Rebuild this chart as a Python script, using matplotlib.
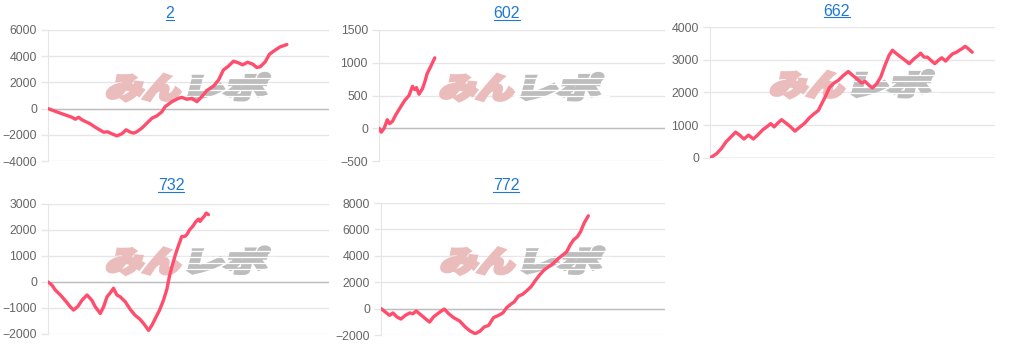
import matplotlib
matplotlib.use("Agg")
import matplotlib.pyplot as plt
from matplotlib.textpath import TextPath
from matplotlib.font_manager import FontProperties
from matplotlib.patches import PathPatch
from matplotlib.transforms import Affine2D, IdentityTransform
from matplotlib.lines import Line2D

W, H, DPI = 1017, 346, 100

# ---- data (game index on a shared 0-100 axis, balance) ----
titles = ["2", "602", "662", "732", "772"]
x_max = 100

x_2 = [0, 4.4, 8.5, 9.7, 10.9, 12.1, 15.0, 16.8, 19.8, 21.2, 22.7, 24.5, 26.3, 27.8, 29.3, 30.5,
       31.6, 33.4, 35.2, 37.0, 38.7, 40.5, 41.7, 44.1, 46.4, 47.6, 49.4, 51.2, 53.0, 54.7, 56.5,
       58.9, 60.7, 62.4, 64.2, 66.0, 67.8, 69.3, 71.0, 72.9, 74.3, 75.5, 77.3, 78.8, 80.8, 82.6, 85.0]
y_2 = [0, -350, -660, -810, -660, -860, -1160, -1420, -1800, -1770, -1920, -2080, -1920, -1620,
       -1800, -1870, -1770, -1490, -1110, -730, -560, -250, 150, 530, 780, 860, 710, 780, 530, 910,
       1370, 1720, 2180, 2940, 3240, 3620, 3490, 3340, 3540, 3390, 3140, 3190, 3570, 4150, 4460,
       4710, 4890]

x_602 = [0, 0.8, 1.8, 2.9, 3.7, 4.7, 5.8, 7.2, 9.0, 10.5, 11.7, 12.5, 13.1, 14.0, 15.2, 16.0,
         16.8, 18.0, 19.5]
y_602 = [0, -60, 0, 130, 70, 105, 200, 300, 425, 500, 640, 590, 620, 520, 605, 705, 830, 935, 1075]

x_662 = [0, 2.3, 4.1, 5.6, 7.3, 9.0, 10.5, 11.9, 13.5, 15.2, 16.6, 18.5, 19.9, 21.3, 22.5, 23.6,
         25.1, 26.9, 28.3, 29.8, 31.6, 33.3, 34.9, 36.5, 38.0, 39.2, 40.4, 41.9, 43.5, 45.0, 46.8,
         48.5, 50.1, 51.5, 53.2, 54.4, 55.8, 57.0, 58.5, 59.9, 61.4, 62.8, 64.0, 65.5, 67.3, 68.8,
         69.9, 71.6, 73.1, 73.9, 75.1, 76.3, 77.8, 78.9, 80.1, 81.3, 82.7, 83.9, 85.1, 86.5, 87.5,
         88.5, 89.5, 90.6, 92.0]
y_662 = [0, 130, 300, 490, 640, 790, 690, 580, 700, 580, 690, 860, 950, 1050, 950, 1050, 1170,
         1050, 950, 820, 950, 1070, 1230, 1350, 1450, 1660, 1860, 2150, 2290, 2370, 2520, 2640,
         2520, 2420, 2290, 2340, 2220, 2140, 2270, 2470, 2830, 3130, 3290, 3180, 3060, 2960, 2880,
         3030, 3130, 3200, 3080, 3080, 2960, 2880, 2980, 3060, 2960, 3080, 3180, 3230, 3290, 3340,
         3410, 3340, 3230]

x_732 = [0, 1.4, 2.6, 4.4, 6.2, 7.9, 9.1, 10.7, 12.1, 13.9, 15.6, 16.8, 18.6, 19.8, 21.0, 22.5,
         23.3, 24.5, 25.7, 27.5, 29.3, 31.0, 32.8, 34.2, 35.8, 37.0, 38.2, 39.7, 41.1, 42.3, 43.2,
         44.1, 45.3, 46.4, 47.6, 48.6, 49.4, 50.4, 51.5, 52.7, 53.6, 54.1, 54.7, 55.6, 56.3, 57.1]
y_732 = [0, -120, -310, -500, -720, -950, -1080, -930, -700, -500, -700, -950, -1210, -950, -570,
         -370, -240, -500, -570, -760, -1060, -1280, -1440, -1620, -1860, -1660, -1400, -1080,
         -700, -280, 210, 590, 1040, 1390, 1750, 1750, 1820, 2010, 2140, 2330, 2420, 2330, 2420,
         2530, 2650, 2590]

x_772 = [0, 1.5, 3.0, 4.2, 5.6, 7.0, 8.6, 10.1, 11.3, 12.4, 13.8, 15.6, 17.1, 18.5, 20.3, 22.3,
         23.8, 25.6, 27.7, 29.7, 31.4, 33.2, 34.9, 36.3, 37.9, 39.6, 41.4, 42.9, 44.3, 45.7, 46.9,
         48.4, 49.9, 51.3, 52.8, 54.3, 55.8, 57.4, 59.0, 60.7, 62.5, 64.0, 65.4, 66.6, 67.8, 69.2,
         70.3, 71.5, 73.0]
y_772 = [0, -250, -510, -330, -630, -790, -510, -330, -380, -180, -430, -760, -1020, -630, -330,
         -30, -380, -690, -940, -1400, -1700, -1900, -1700, -1400, -1270, -690, -510, -330, 80,
         330, 510, 940, 1090, 1350, 1650, 2110, 2540, 2920, 3170, 3430, 3810, 4060, 4310, 4820,
         5200, 5460, 5840, 6470, 7030]

yticks_2 = [-4000, -2000, 0, 2000, 4000, 6000]
yticks_602 = [-500, 0, 500, 1000, 1500]
yticks_662 = [0, 1000, 2000, 3000, 4000]
yticks_732 = [-2000, -1000, 0, 1000, 2000, 3000]
yticks_772 = [-2000, 0, 2000, 4000, 6000, 8000]

series = [(x_2, y_2, yticks_2), (x_602, y_602, yticks_602), (x_662, y_662, yticks_662),
          (x_732, y_732, yticks_732), (x_772, y_772, yticks_772)]

# layout in pixels: plot box (left, top, right, bottom) and title centre
boxes = [(48, 30, 329, 161), (379, 30, 665, 161), (710, 27, 995, 158),
         (48, 204, 329, 334), (381, 203, 665, 335)]
title_pos = [(170, 14), (507, 14), (837, 11), (171, 186), (506, 186)]

LINE = "#ff4d6d"
GRID = "#e6e6e6"
ZERO = "#bdbdbd"
LINK = "#1f78d1"

plt.rcParams["font.family"] = ["Liberation Sans", "DejaVu Sans"]

fig = plt.figure(figsize=(W / DPI, H / DPI), dpi=DPI)
fig.patch.set_facecolor("white")

wm_font = FontProperties(family="Noto Sans CJK JP", weight="black")


def glyph_patch(text, x0, y0, w, h, color):
    tp = TextPath((0, 0), text, size=1, prop=wm_font)
    ext = tp.get_extents()
    tr = (Affine2D().translate(-ext.x0, -ext.y0)
          .scale(w / ext.width, h / ext.height)
          .skew_deg(14, 0)
          .translate(x0, y0))
    # a thick edge in the same colour fattens the strokes like the logo
    return PathPatch(tp, transform=tr, facecolor=color, edgecolor=color, lw=2.6,
                     joinstyle="miter", zorder=1, clip_on=False)


def add_watermark(ax, box):
    l, t, r, b = box
    cx = l + (r - l) * 0.49
    cy = H - (t + (b - t) * 0.44)   # display coords, origin bottom-left
    hgt = 26
    left = cx - 80
    p1 = glyph_patch("みん", left, cy - hgt / 2, 72, hgt, "#ebbcbc")
    ax.add_artist(p1)
    p2 = glyph_patch("レポ", left + 82, cy - hgt / 2 + 1, 76, hgt, "#bdbdbd")
    ax.add_artist(p2)
    # thin white stripes through the grey part
    for k in range(4):
        yy = cy - hgt / 2 + 5 + k * 6
        ax.add_artist(Line2D([left + 75, left + 170], [yy, yy], transform=IdentityTransform(),
                             color="white", lw=0.9, zorder=1.1))


title_texts = []
for (xs, ys, yt), box, tpos, name in zip(series, boxes, title_pos, titles):
    l, t, r, b = box
    ax = fig.add_axes([l / W, 1 - b / H, (r - l) / W, (b - t) / H])
    ax.set_axisbelow(True)
    add_watermark(ax, box)
    ax.plot(xs, ys, color=LINE, lw=2.4, solid_joinstyle="round", solid_capstyle="round", zorder=3)
    ax.set_xlim(0, x_max)
    ax.set_ylim(yt[0], yt[-1])
    ax.set_yticks(yt)
    ax.set_xticks([])
    ax.grid(axis="y", color=GRID, lw=1)
    ax.axhline(0, color=ZERO, lw=1, zorder=1.2)
    for s in ["top", "right", "bottom"]:
        ax.spines[s].set_visible(False)
    ax.spines["left"].set_color(GRID)
    ax.tick_params(axis="y", length=5, width=1, color=GRID, labelcolor="#666666",
                   labelsize=8.8, pad=3)
    tt = fig.text(tpos[0] / W, 1 - tpos[1] / H, name, ha="center", va="center",
                  color=LINK, fontsize=11.5)
    title_texts.append(tt)

# underline the link-style titles
fig.canvas.draw()
for tt in title_texts:
    bb = tt.get_window_extent()
    fig.add_artist(Line2D([bb.x0, bb.x1], [bb.y0 + 1.5, bb.y0 + 1.5],
                          transform=IdentityTransform(), color=LINK, lw=0.8))

fig.savefig("out.png", dpi=DPI)
